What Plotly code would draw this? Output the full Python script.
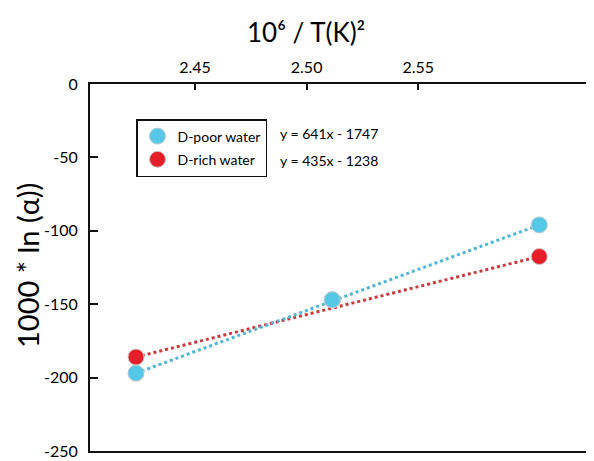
import plotly.graph_objects as go

# Data
x_vals = [2.4236, 2.5115, 2.6042]
poor_y = [-197.0, -147.0, -96.0]
rich_y = [-186.0, -147.0, -117.5]
series_names = ["D-poor water", "D-rich water"]
equations = ["y = 641x - 1747", "y = 435x - 1238"]
x_ticks = [2.45, 2.50, 2.55]
y_ticks = [0, -50, -100, -150, -200, -250]

FONT = "Lato"
blue = "#55C8E8"
red = "#E61E27"
blue_line = "#4DB6D6"
red_line = "#C93B3B"

fig = go.Figure()

# Dotted trend lines (first to last point)
fig.add_trace(go.Scatter(x=[x_vals[0], x_vals[-1]], y=[rich_y[0], rich_y[-1]], mode="lines",
                         line=dict(color=red_line, width=3, dash="dot"), showlegend=False, hoverinfo="skip"))
fig.add_trace(go.Scatter(x=[x_vals[0], x_vals[-1]], y=[poor_y[0], poor_y[-1]], mode="lines",
                         line=dict(color=blue_line, width=3, dash="dot"), showlegend=False, hoverinfo="skip"))

fig.add_trace(go.Scatter(x=x_vals, y=rich_y, mode="markers", name=series_names[1],
                         legendgroup="b", legendrank=2,
                         marker=dict(color=red, size=16, line=dict(color="#c8c8c8", width=1))))
fig.add_trace(go.Scatter(x=x_vals, y=poor_y, mode="markers", name=series_names[0],
                         legendgroup="a", legendrank=1,
                         marker=dict(color=blue, size=16, line=dict(color="#b8c8d0", width=1))))

# page body adds an 8px offset; positions below are in screen pixels
OFF = 8
PL, PT, PB, PR = 90, 84, 451, 594
W, H = PR - OFF, 461 - OFF
PW, PH = PR - PL, PB - PT

fig.update_layout(
    width=W, height=H,
    margin=dict(l=PL - OFF, r=0, t=PT - OFF, b=H + OFF - PB, autoexpand=False),
    paper_bgcolor="white", plot_bgcolor="white",
    font=dict(family=FONT, color="#000", size=16),
    showlegend=True,
    legend=dict(x=(136 - PL) / PW, y=(PB - 119) / PH, xanchor="left", yanchor="top",
                bordercolor="#111", borderwidth=1.5, bgcolor="white",
                font=dict(size=14, family=FONT, color="#000"), tracegroupgap=2,
                traceorder="grouped", itemwidth=30),
    xaxis=dict(side="top", range=[2.403, 2.6287], tickvals=x_ticks,
               ticktext=[f"{v:.2f}" for v in x_ticks],
               showline=True, linecolor="#111", linewidth=2, mirror=True,
               ticks="inside", ticklen=6, tickwidth=2, tickcolor="#111",
               showgrid=False, zeroline=False, tickfont=dict(size=16),
               ticklabelstandoff=3),
    yaxis=dict(range=[-250, 0], tickvals=y_ticks, ticktext=[str(v) for v in y_ticks],
               showline=True, linecolor="#111", linewidth=2,
               ticks="inside", ticklen=8, tickwidth=2, tickcolor="#111",
               showgrid=False, zeroline=False, tickfont=dict(size=16),
               ticklabelstandoff=7),
)

fig.add_annotation(xref="paper", yref="paper", x=(306 - PL) / PW, y=1 + (PT - 32) / PH,
                   text="10⁶ / T(K)²", showarrow=False,
                   font=dict(size=26, family=FONT), xanchor="center", yanchor="middle")
fig.add_annotation(xref="paper", yref="paper", x=-(PL - 27) / PW, y=(PB - 266) / PH,
                   text="1000 * ln (α))", showarrow=False, textangle=-90,
                   font=dict(size=29, family=FONT), xanchor="center", yanchor="middle")
for i, eq in enumerate(equations):
    fig.add_annotation(xref="paper", yref="paper", x=(278 - PL) / PW,
                       y=(PB - (133 + 27 * i)) / PH, text=eq, showarrow=False,
                       font=dict(size=14, family=FONT), xanchor="left", yanchor="middle")

fig.write_html("out.html")
